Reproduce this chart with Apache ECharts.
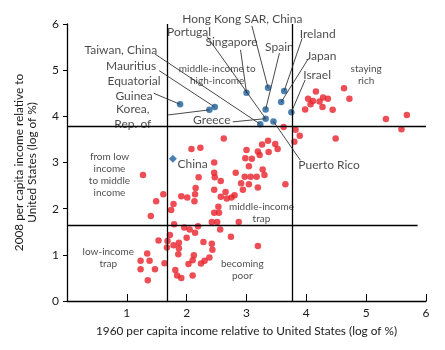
<!DOCTYPE html>
<html>
<head>
<meta charset="utf-8">
<script src="https://cdn.jsdelivr.net/npm/echarts@6/dist/echarts.min.js"></script>
<style>
  html, body { margin: 0; padding: 0; background: #fff; }
  #chart { width: 445px; height: 350px; }
</style>
</head>
<body>
<div id="chart"></div>
<script>
// ---- data (log of % of US per capita income) ----
const redPoints = [
  [4.16,4.54],[4.63,4.61],[4.03,4.38],[4.11,4.33],[4.07,4.26],[3.98,4.15],[4.28,4.41],[4.36,4.38],
  [4.22,4.32],[4.27,4.20],[4.44,4.14],[4.72,4.38],[5.33,3.94],[5.68,4.03],[5.59,3.72],[4.49,3.52],
  [3.62,3.77],[3.82,3.71],[3.89,3.58],[3.80,3.45],
  [2.62,3.52],[3.26,3.39],[3.36,3.47],[3.48,3.40],[3.52,3.29],[3.00,3.27],[3.19,3.24],[3.22,3.16],
  [3.37,3.23],[2.98,3.09],[3.09,3.08],[2.08,3.29],[2.23,3.32],[2.46,3.00],[3.04,2.92],[3.27,2.85],
  [2.82,2.78],[2.46,2.78],[2.97,2.69],[3.07,2.69],[3.17,2.69],[3.30,2.73],[2.47,2.68],[2.20,2.68],
  [2.57,2.60],[2.91,2.55],[3.04,2.53],[3.65,2.53],[3.19,2.46],[2.46,2.41],[2.94,2.41],[2.15,2.45],
  [2.65,2.36],[2.57,2.26],[2.67,2.22],[2.75,2.24],[2.80,2.29],[2.14,2.31],[2.13,2.16],[2.01,2.24],
  [1.91,2.27],[2.53,2.04],[2.46,1.91],[2.54,1.91],[2.42,1.71],[2.51,1.71],[2.87,1.71],[2.56,1.55],
  [2.74,1.39],[3.19,1.19],
  [1.27,2.73],[1.61,2.31],[1.49,2.16],[1.40,1.84],[1.78,2.10],[1.74,1.97],[1.79,1.66],[1.96,1.59],
  [2.05,1.55],[2.14,1.48],[2.19,1.62],[1.72,1.43],[2.00,1.37],[1.68,1.30],[1.53,1.31],[2.28,1.28],
  [1.87,1.26],[1.78,1.21],[1.67,1.16],[1.87,1.14],[2.42,1.24],[2.43,1.11],[1.86,1.01],[1.34,1.03],
  [1.63,0.82],[1.23,0.87],[1.38,0.87],[1.23,0.69],[1.47,0.69],[1.35,0.45],[2.12,0.99],[2.10,0.88],
  [2.03,0.80],[2.30,0.87],[2.24,0.81],[2.38,0.94],[1.81,0.67],[1.84,0.55],[1.91,0.50],[2.10,0.55]
];
const bluePoints = [
  [1.89,4.26],[2.38,4.14],[2.47,4.20],[3.00,4.51],[3.36,4.62],[3.63,4.55],[3.58,4.31],
  [3.32,4.15],[3.75,4.09],[3.32,3.95],[3.45,3.89],[3.23,3.83]
];
const chinaPoint = [[1.77,3.08]];

// quadrant thresholds
const thresholdX = [1.67, 3.76];
const thresholdY = [3.78, 1.65];

// country labels: [text, labelX, labelY, leaderStartX, leaderStartY, pointX, pointY]
const countryNames = [
  ["Hong Kong SAR, China", 2.93, 6.11, 3.09, 5.96, 3.36, 4.62],
  ["Portugal", 2.04, 5.82, 2.34, 5.73, 3.32, 3.95],
  ["Singapore", 2.75, 5.61, 2.90, 5.44, 3.00, 4.51],
  ["Spain", 3.55, 5.50, 3.55, 5.37, 3.32, 4.15],
  ["Ireland", 4.19, 5.77, 3.93, 5.69, 3.63, 4.55],
  ["Japan", 4.25, 5.31, 4.02, 5.22, 3.58, 4.31],
  ["Israel", 4.18, 4.89, 3.98, 4.79, 3.75, 4.09],
  ["Taiwan, China", 0.90, 5.43, 1.47, 5.35, 3.23, 3.83],
  ["Mauritius", 1.07, 5.09, 1.54, 4.99, 2.47, 4.20],
  ["Equatorial\nGuinea", 1.12, 4.60, 1.45, 4.50, 1.89, 4.26],
  ["Korea,\nRep. of", 1.10, 3.99, 1.69, 4.03, 2.38, 4.14],
  ["Greece", 2.42, 3.91, 2.77, 3.88, 3.32, 3.95],
  ["Puerto Rico", 4.38, 2.95, 3.90, 3.05, 3.45, 3.89]
];
const chinaLabel = [["China", 2.10, 2.97]];

// region labels: [text, x, y]
const regionNames = [
  ["middle-income to\nhigh-income", 2.51, 4.89],
  ["staying\nrich", 5.00, 4.89],
  ["from low\nincome\nto middle\nincome", 0.71, 2.73],
  ["middle-income\ntrap", 3.25, 1.91],
  ["low-income\ntrap", 0.69, 0.93],
  ["becoming\npoor", 2.93, 0.68]
];

const xTicks = [0, 1, 2, 3, 4, 5, 6];
const yTicks = [0, 1, 2, 3, 4, 5, 6];

const FONT = 'Lato';
const RED = '#e8202a';
const BLUE = '#1b5f9e';

const chart = echarts.init(document.getElementById('chart'), null, { renderer: 'canvas' });

const refLines = [
  ...thresholdX.map(v => [{ coord: [v, yTicks[0]] }, { coord: [v, yTicks[yTicks.length - 1]] }]),
  [{ coord: [xTicks[0], thresholdY[0]] }, { coord: [xTicks[xTicks.length - 1], thresholdY[0]] }],
  [{ coord: [xTicks[0], thresholdY[1]] }, { coord: [5.86, thresholdY[1]] }]
];

const leaders = countryNames.map(c => [{ coord: [c[3], c[4]] }, { coord: [c[5], c[6]] }]);

const labelSeries = (data, size, lh) => ({
  type: 'scatter',
  data: data.map(d => ({ value: [d[1], d[2]], name: d[0] })),
  symbolSize: 1,
  itemStyle: { color: 'rgba(0,0,0,0)' },
  clip: false,
  silent: true,
  z: 10,
  label: {
    show: true,
    position: 'inside',
    formatter: p => p.name,
    fontFamily: FONT,
    fontSize: size,
    lineHeight: lh,
    color: '#1a1a1a',
    align: 'center',
    verticalAlign: 'middle'
  },
  labelLayout: { hideOverlap: false }
});

chart.setOption({
  animation: false,
  backgroundColor: '#fff',
  grid: { left: 67, right: 19, top: 24, bottom: 49 },
  xAxis: {
    type: 'value', min: xTicks[0], max: xTicks[xTicks.length - 1], interval: 1,
    name: '1960 per capita income relative to United States (log of %)',
    nameLocation: 'middle', nameGap: 24,
    nameTextStyle: { fontFamily: FONT, fontSize: 11.8, color: '#1a1a1a' },
    axisLine: { show: true, lineStyle: { color: '#000', width: 1.3 } },
    axisTick: { show: true, inside: true, length: 7, lineStyle: { color: '#000', width: 1 } },
    axisLabel: { fontFamily: FONT, fontSize: 12, color: '#1a1a1a', margin: 6,
      formatter: v => (v === 0 ? '' : String(v)) },
    splitLine: { show: false }
  },
  yAxis: {
    type: 'value', min: yTicks[0], max: yTicks[yTicks.length - 1], interval: 1,
    name: '2008 per capita income relative to\nUnited States (log of %)',
    nameLocation: 'middle', nameGap: 28, nameRotate: 90,
    nameTextStyle: { fontFamily: FONT, fontSize: 11.8, color: '#1a1a1a', lineHeight: 13 },
    axisLine: { show: true, lineStyle: { color: '#000', width: 1.3 } },
    axisTick: { show: true, inside: false, length: 4, lineStyle: { color: '#000', width: 1 } },
    axisLabel: { fontFamily: FONT, fontSize: 12, color: '#1a1a1a', margin: 8 },
    splitLine: { show: false }
  },
  series: [
    {
      type: 'scatter',
      data: redPoints,
      symbol: 'circle',
      symbolSize: 6.5,
      itemStyle: { color: RED },
      silent: true,
      z: 3,
      markLine: {
        silent: true, symbol: 'none', animation: false,
        label: { show: false },
        lineStyle: { color: '#000', width: 1.3, type: 'solid' },
        data: refLines
      }
    },
    {
      type: 'scatter',
      data: bluePoints,
      symbol: 'circle',
      symbolSize: 6.5,
      itemStyle: { color: BLUE },
      silent: true,
      z: 4,
      markLine: {
        silent: true, symbol: 'none', animation: false,
        label: { show: false },
        lineStyle: { color: '#333', width: 0.9, type: 'solid' },
        data: leaders
      }
    },
    {
      type: 'scatter',
      data: chinaPoint,
      symbol: 'diamond',
      symbolSize: 8,
      itemStyle: { color: BLUE },
      silent: true,
      z: 4
    },
    labelSeries(countryNames.slice(0, 9), 12, 14),
    labelSeries(countryNames.slice(9, 11), 12, 14.5),
    labelSeries(countryNames.slice(11), 12, 14),
    labelSeries(chinaLabel, 12, 14),
    labelSeries(regionNames, 10, 12)
  ]
});
</script>
</body>
</html>
